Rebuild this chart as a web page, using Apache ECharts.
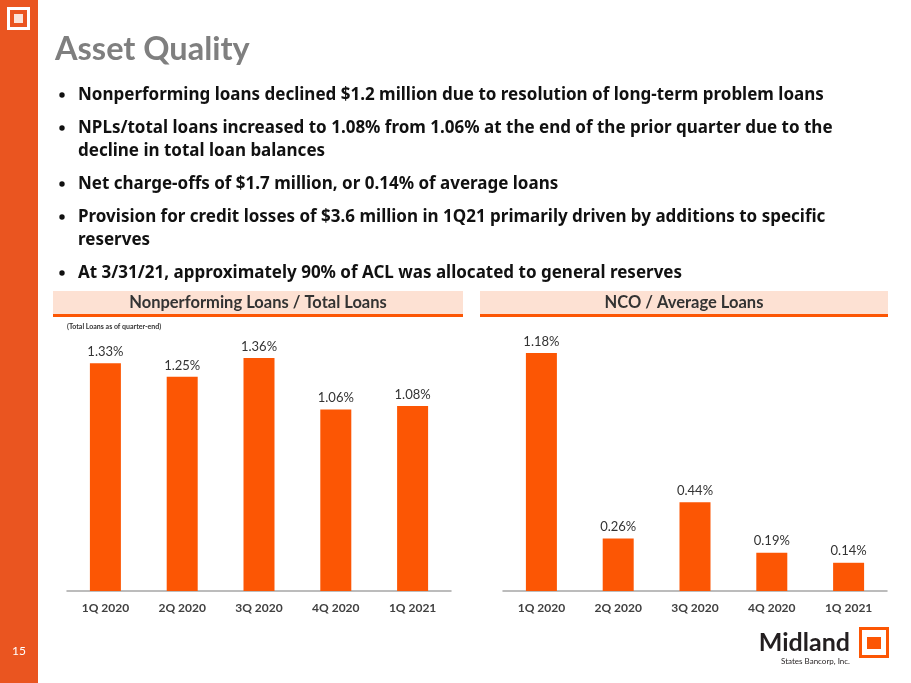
<!DOCTYPE html>
<html>
<head>
<meta charset="utf-8">
<title>Asset Quality</title>
<script src="https://cdn.jsdelivr.net/npm/echarts@6.0.0/dist/echarts.min.js"></script>
<style>
    html,body{margin:0;padding:0;background:#fff;}
    #slide{width:911px;height:683px;}
</style>
</head>
<body>
<div id="slide"></div>
<script>
// data
var quarters = ['1Q 2020', '2Q 2020', '3Q 2020', '4Q 2020', '1Q 2021'];
var nplRatio = [1.33, 1.25, 1.36, 1.06, 1.08];   // Nonperforming Loans / Total Loans (%)
var ncoRatio = [1.18, 0.26, 0.44, 0.19, 0.14];   // NCO / Average Loans (%)

var bullets = [
    ['Nonperforming loans declined $1.2 million due to resolution of long-term problem loans'],
    ['NPLs/total loans increased to 1.08% from 1.06% at the end of the prior quarter due to the', 'decline in total loan balances'],
    ['Net charge-offs of $1.7 million, or 0.14% of average loans'],
    ['Provision for credit losses of $3.6 million in 1Q21 primarily driven by additions to specific', 'reserves'],
    ['At 3/31/21, approximately 90% of ACL was allocated to general reserves']
];

var ORANGE = '#fc5604';
var SIDE = '#ea5520';
var DARK = '#404040';
var FONT = 'Lato, "Open Sans", sans-serif';

function bulletGraphics(){
    var out = [];
    var y = 95;
    bullets.forEach(function(lines){
        out.push({type:'circle', shape:{cx:62, cy:y, r:2.7}, style:{fill:'#111'}});
        lines.forEach(function(t, i){
            out.push({
                type:'text', x:78, y:y + i*23,
                style:{text:t, fill:'#111', font:'bold 17px "Noto Sans", sans-serif', verticalAlign:'middle'}
            });
        });
        y += (lines.length - 1)*23 + 33;
    });
    return out;
}

function header(x, w, label){
    return [
        {type:'rect', shape:{x:x, y:291, width:w, height:23}, style:{fill:'#fde1d3'}},
        {type:'rect', shape:{x:x, y:314, width:w, height:3}, style:{fill:ORANGE}},
        {type:'text', x:x + w/2, y:303,
            style:{text:label, fill:'#333', font:'bold 16.5px ' + FONT, align:'center', verticalAlign:'middle'}}
    ];
}

function barSeries(idx, data){
    return {
        type:'bar',
        xAxisIndex:idx,
        yAxisIndex:idx,
        data:data,
        barWidth:31,
        itemStyle:{color:ORANGE},
        label:{
            show:true,
            position:'top',
            distance:5,
            color:'#333',
            fontFamily:FONT,
            fontSize:13,
            formatter:function(p){ return p.value.toFixed(2) + '%'; }
        }
    };
}

function catAxis(idx){
    return {
        type:'category',
        gridIndex:idx,
        data:quarters,
        axisTick:{show:false},
        axisLine:{lineStyle:{color:'#a6a6a6', width:1.5}},
        axisLabel:{color:DARK, fontFamily:FONT, fontWeight:'bold', fontSize:12, margin:11}
    };
}

function valAxis(idx, max){
    return {type:'value', gridIndex:idx, min:0, max:max, show:false, splitLine:{show:false}};
}

window.onload = function(){
    var chart = echarts.init(document.getElementById('slide'));

    var graphics = [
        // orange side strip
        {type:'rect', shape:{x:0, y:0, width:38, height:683}, style:{fill:SIDE}},
        {type:'rect', shape:{x:7, y:7, width:23, height:23}, style:{fill:'#fff'}},
        {type:'rect', shape:{x:10, y:10, width:17, height:17}, style:{fill:SIDE}},
        {type:'rect', shape:{x:14, y:14, width:9, height:9}, style:{fill:'#fbe3d8'}},
        {type:'text', x:19, y:651, style:{text:'15', fill:'#fff', font:'12px ' + FONT, align:'center', verticalAlign:'middle'}},
        // title
        {type:'text', x:55, y:50, style:{text:'Asset Quality', fill:'#7f7f7f', font:'bold 32.5px ' + FONT, verticalAlign:'middle'}},
        // note under left header
        {type:'text', x:67, y:327, style:{text:'(Total Loans as of quarter-end)', fill:'#333', font:'bold 7px ' + FONT, verticalAlign:'middle'}},
        // logo
        {type:'text', x:850, y:643, style:{text:'Midland', fill:'#231f20', font:'bold 25px ' + FONT, align:'right', verticalAlign:'middle'}},
        {type:'text', x:850, y:661, style:{text:'States Bancorp, Inc.', fill:'#231f20', font:'8px ' + FONT, align:'right', verticalAlign:'middle'}},
        {type:'rect', shape:{x:859, y:627, width:30, height:31}, style:{fill:ORANGE}},
        {type:'rect', shape:{x:862, y:630, width:24, height:25}, style:{fill:'#fff'}},
        {type:'rect', shape:{x:867, y:637, width:14, height:12}, style:{fill:ORANGE}}
    ];
    graphics = graphics.concat(bulletGraphics());
    graphics = graphics.concat(header(53, 410, 'Nonperforming Loans / Total Loans'));
    graphics = graphics.concat(header(480, 408, 'NCO / Average Loans'));

    var option = {
        animation:false,
        graphic:graphics,
        grid:[
            {left:67, width:384, top:334, bottom:92},   // NPL chart
            {left:503, width:384, top:339, bottom:92}   // NCO chart
        ],
        xAxis:[catAxis(0), catAxis(1)],
        yAxis:[valAxis(0, 1.5), valAxis(1, 1.25)],
        series:[barSeries(0, nplRatio), barSeries(1, ncoRatio)]
    };
    chart.setOption(option);
};
</script>
</body>
</html>
